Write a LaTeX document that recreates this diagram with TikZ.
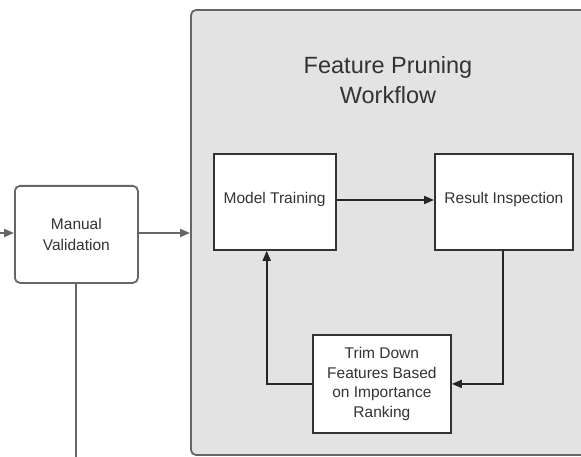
\documentclass[tikz,border=0pt]{standalone}
\usepackage{fontspec}
\setmainfont{Liberation Sans}
\usetikzlibrary{arrows.meta}
\definecolor{txt}{HTML}{333333}
\definecolor{gline}{HTML}{666666}
\definecolor{cont}{HTML}{E3E3E3}
\begin{document}
\begin{tikzpicture}[x=1pt,y=-1pt,
  wbox/.style={draw=black!80,line width=1.8pt,fill=white,minimum width=#1,inner sep=0pt,align=center,font=\fontsize{15.5}{19.5}\selectfont,text=txt},
  garrow/.style={draw=gline,line width=1.8pt,-{Triangle[length=10pt,width=8pt]}},
  barrow/.style={draw=black!85,line width=1.8pt,-{Triangle[length=10pt,width=8pt]}},
  gline/.style={draw=gline,line width=1.8pt}]
\useasboundingbox (0,0) rectangle (581,457);
\clip (0,0) rectangle (581,457);
% container
\draw[draw=gline,line width=1.8pt,fill=cont,rounded corners=5pt] (191,10) rectangle (620,455);
\node[font=\fontsize{23.5}{30}\selectfont,text=txt,align=center] (title) at (388,80) {Feature Pruning\\Workflow};
% nodes
\node[wbox=122pt,minimum height=96pt,anchor=north west] (mt) at (212.7,153) {};
\node[font=\fontsize{15.5}{19.5}\selectfont,text=txt] (mtl) at (mt.center |- 0,199) {Model Training};
\node[wbox=138pt,minimum height=96pt,anchor=north west] (ri) at (434,153) {};
\node[font=\fontsize{15.5}{19.5}\selectfont,text=txt] (ril) at (ri.center |- 0,199) {Result Inspection};
\node[wbox=138pt,minimum height=98pt,anchor=north west] (tr) at (312,334) {Trim Down\\Features Based\\on Importance\\Ranking};
\node[draw=gline,line width=1.8pt,fill=white,rounded corners=5pt,minimum width=123pt,minimum height=97pt,anchor=north west,align=center,font=\fontsize{15.5}{21}\selectfont,text=txt] (mv) at (14,185) {Manual\\Validation};
% coordinates
\coordinate (lin) at (-5,233);
\coordinate (cin) at (190,233);
\coordinate (mvdown) at (76,462);
% connectors
\draw[garrow] (lin) -- (mv.west |- lin);
\draw[garrow] (mv.east |- cin) -- (cin);
\draw[gline] (mv.south -| mvdown) -- (mvdown);
\draw[barrow] (mt.east |- 0,200) -- (ri.west |- 0,200);
\draw[barrow] (ri.south -| 502.7,0) |- (tr.east);
\draw[barrow] (tr.west) -| (266.7,0 |- mt.south);
\end{tikzpicture}
\end{document}
